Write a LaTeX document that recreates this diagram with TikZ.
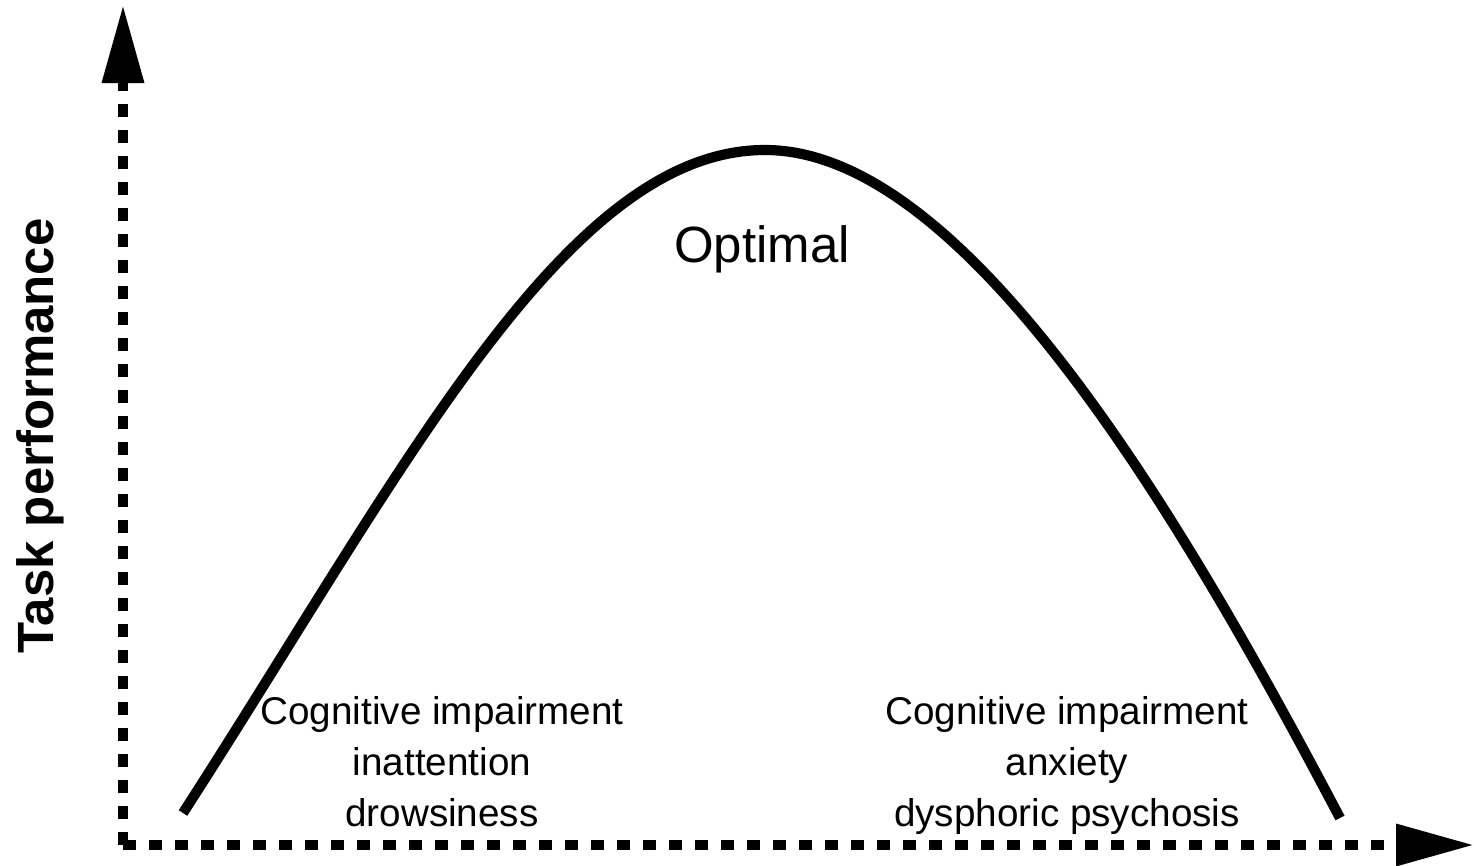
\documentclass[tikz,border=0pt]{standalone}
\usepackage{fontspec}
\setmainfont{Liberation Sans}
\usetikzlibrary{arrows.meta}
\begin{document}
\begin{tikzpicture}[>={Triangle[length=0.78cm,width=0.40cm]},
   axis/.style={line width=2.8pt,dash pattern=on 0.13cm off 0.13cm},
   curve/.style={line width=2.9pt,line cap=butt},
   lbl/.style={align=center,font=\fontsize{11}{14.5}\selectfont,inner sep=0pt}]
   \useasboundingbox (0,0) rectangle (14.74,8.65);
   % 軸
   \coordinate (O) at (1.23,0.20);
   \coordinate (ytop) at (1.23,8.60);
   \coordinate (xend) at (14.74,0.20);
   \draw[axis,->] (O) -- (ytop);
   \draw[axis,->] (O) -- (xend);
   \node (ylabel) [rotate=90,anchor=base,font=\fontsize{14.5}{17}\selectfont\bfseries] at (0.53,4.29) {Task performance};

   % 曲線
   \coordinate (start) at (1.83,0.52);
   \coordinate (peak) at (7.65,7.15);
   \coordinate (stop) at (13.40,0.47);
   \draw[curve] (start) .. controls (4.03,3.93) and (5.65,7.15) .. (peak)
                        .. controls (9.65,7.15) and (11.80,3.51) .. (stop);

   % ラベル
   \node (opt) [anchor=base,font=\fontsize{14.5}{17}\selectfont] at (7.62,6.03) {Optimal};
   \node (low) [lbl,anchor=north] at (4.42,1.69) {Cognitive impairment\\inattention\\drowsiness};
   \node (high) [lbl,anchor=north] at (10.67,1.69) {Cognitive impairment\\anxiety\\dysphoric psychosis};
\end{tikzpicture}
\end{document}
